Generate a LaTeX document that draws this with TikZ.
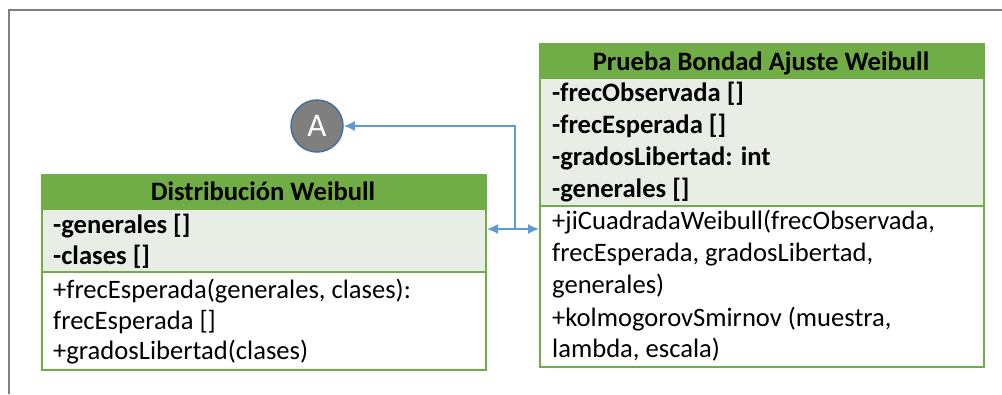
\documentclass[tikz,border=0pt]{standalone}
\usepackage{fontspec}
\setmainfont{Carlito}
\usetikzlibrary{arrows.meta}
\definecolor{hdrgreen}{HTML}{70AD47}
\definecolor{attrfill}{HTML}{E8EEE5}
\definecolor{framegray}{HTML}{808080}
\definecolor{arrblue}{HTML}{5B9BD5}
\definecolor{circgray}{HTML}{7F7F7F}
\definecolor{circline}{HTML}{41719C}
\tikzset{
  compart/.style={draw=hdrgreen, line width=2pt, inner sep=0pt, anchor=north west},
  hdrbox/.style={compart, fill=hdrgreen},
  attrbox/.style={compart, fill=attrfill},
  methbox/.style={compart, fill=white},
  hdrtxt/.style={inner sep=0pt, anchor=base, font=\fontsize{26.6}{31}\selectfont\bfseries},
  attrtxt/.style={inner sep=0pt, anchor=base west, font=\fontsize{26.6}{31}\selectfont\bfseries},
  methtxt/.style={inner sep=0pt, anchor=base west, font=\fontsize{26.6}{31}\selectfont},
  conn/.style={draw=arrblue, line width=1.5pt, arrows={-Latex[length=11pt,width=10pt]}},
}
\begin{document}
\begin{tikzpicture}[x=1pt,y=-1pt]
\useasboundingbox (0,0) rectangle (1002,394);
% frame
\draw[framegray, line width=2.2pt] (1002,10) -- (9,10) -- (9,394);

% left class
\node[hdrbox, minimum width=444pt, minimum height=34pt] (lh) at (41,174) {};
\node[attrbox, minimum width=444pt, minimum height=63pt] (la) at (41,208) {};
\node[methbox, minimum width=444pt, minimum height=98pt] (lm) at (41,271) {};
\node[hdrtxt] (lht) at (263,200) {Distribución Weibull};
\node[attrtxt] (la1) at (53,233) {-generales []};
\node[attrtxt] (la2) at (53,264) {-clases []};
\node[methtxt] (lm1) at (53,298) {+frecEsperada(generales, clases):};
\node[methtxt] (lm2) at (53,329) {frecEsperada []};
\node[methtxt] (lm3) at (53,359) {+gradosLibertad(clases)};

% right class
\node[hdrbox, minimum width=444pt, minimum height=34pt] (rh) at (539,43) {};
\node[attrbox, minimum width=444pt, minimum height=128pt] (ra) at (539,77) {};
\node[methbox, minimum width=444pt, minimum height=161pt] (rm) at (539,205) {};
\node[hdrtxt] (rht) at (761,70) {Prueba Bondad Ajuste Weibull};
\node[attrtxt] (ra1) at (552,101) {-frecObservada []};
\node[attrtxt] (ra2) at (552,133) {-frecEsperada []};
\node[attrtxt] (ra3) at (552,165) {-gradosLibertad: int};
\node[attrtxt] (ra4) at (552,197) {-generales []};
\node[methtxt] (rm1) at (552,229) {+jiCuadradaWeibull(frecObservada,};
\node[methtxt] (rm2) at (552,261) {frecEsperada, gradosLibertad,};
\node[methtxt] (rm3) at (552,293) {generales)};
\node[methtxt] (rm4) at (552,326) {+kolmogorovSmirnov (muestra,};
\node[methtxt] (rm5) at (552,357) {lambda, escala)};

% connector A
\node[circle, draw=circline, line width=1.5pt, fill=circgray, minimum size=52pt, inner sep=0pt,
      text=white, font=\fontsize{33}{36}\selectfont] (A) at (317,126) {A};

\coordinate (j) at (515,229);
\coordinate (jt) at (515,126);
\draw[conn] (j) -- (j -| la.east);
\draw[conn] (j) -- (j -| rm.west);
\draw[conn] (j) -- (jt) -- (A);
\end{tikzpicture}
\end{document}
